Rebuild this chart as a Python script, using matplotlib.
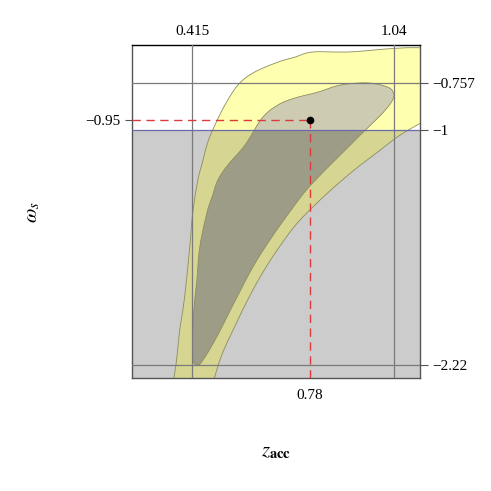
import numpy as np
import matplotlib
matplotlib.use('Agg')
import matplotlib.pyplot as plt
from matplotlib.patches import Rectangle

plt.rcParams['font.family'] = ['Liberation Serif', 'DejaVu Serif']
plt.rcParams['mathtext.fontset'] = 'stix'

# contour outlines (z_acc, w_s)
outer_z = [0.358, 0.367, 0.377, 0.392, 0.408, 0.417, 0.433, 0.445, 0.464, 0.486,
           0.517, 0.557, 0.605, 0.681, 0.734, 0.787, 0.890, 1.185, 1.185, 1.123,
           1.055, 0.990, 0.921, 0.859, 0.795, 0.736, 0.683, 0.633, 0.587, 0.545,
           0.507, 0.483, 0.476, 0.352]
outer_w = [-2.295, -2.192, -2.036, -1.865, -1.606, -1.430, -1.259, -1.181, -1.062, -0.974,
           -0.870, -0.767, -0.703, -0.648, -0.622, -0.596, -0.596, -0.596, -0.907, -0.964,
           -1.031, -1.114, -1.202, -1.290, -1.389, -1.492, -1.611, -1.741, -1.881, -2.026,
           -2.166, -2.295, -2.373, -2.373]

inner_z = [0.433, 0.417, 0.420, 0.430, 0.439, 0.461, 0.479, 0.495, 0.526, 0.579,
           0.632, 0.681, 0.734, 0.806, 0.874, 0.958, 1.020, 1.039, 1.036, 1.008,
           0.968, 0.936, 0.896, 0.852, 0.806, 0.764, 0.715, 0.660, 0.605, 0.550,
           0.492, 0.455]
inner_w = [-2.218, -2.176, -1.948, -1.777, -1.606, -1.430, -1.337, -1.259, -1.181, -1.078,
           -0.938, -0.870, -0.834, -0.803, -0.767, -0.756, -0.777, -0.808, -0.845, -0.907,
           -0.974, -1.026, -1.093, -1.166, -1.244, -1.321, -1.430, -1.560, -1.705, -1.880,
           -2.070, -2.176]

best_z = 0.78
best_w = -0.95
phantom_w = -1.0
grid_z = [0.415, 1.04]
grid_w = [-0.757, -2.22]

zmin, zmax = 0.229, 1.121
wmin, wmax = -2.285, -0.56


def lab(v):
    return ('%g' % v).replace('-', '\u2212')


def smooth(xs, ys, n=10):
    # closed catmull-rom through the traced points
    p = np.column_stack([xs, ys])
    N = len(p)
    out = []
    for i in range(N):
        p0, p1, p2, p3 = p[i - 1], p[i], p[(i + 1) % N], p[(i + 2) % N]
        for t in np.linspace(0, 1, n, endpoint=False):
            out.append(0.5 * (2 * p1 + (-p0 + p2) * t
                              + (2 * p0 - 5 * p1 + 4 * p2 - p3) * t ** 2
                              + (-p0 + 3 * p1 - 3 * p2 + p3) * t ** 3))
    out = np.array(out)
    return out[:, 0], out[:, 1]


fig = plt.figure(figsize=(4.91, 4.91), dpi=100)
ax = fig.add_axes([0.2688, 0.2301, 0.5866, 0.678])
ax.set_xlim(zmin, zmax)
ax.set_ylim(wmin, wmax)

# phantom region below w = -1
ax.add_patch(Rectangle((zmin, wmin), zmax - zmin, phantom_w - wmin,
                       facecolor='#cccccc', edgecolor='none', zorder=0))

upper = Rectangle((zmin, phantom_w), zmax - zmin, wmax - phantom_w, transform=ax.transData)
lower = Rectangle((zmin, wmin), zmax - zmin, phantom_w - wmin, transform=ax.transData)

for zs, ws, c_up, c_lo in [(outer_z, outer_w, '#ffffb0', '#d6d592'),
                           (inner_z, inner_w, '#cdcbb2', '#9d9d87')]:
    sz, sw = smooth(zs, ws)
    for c, clip in [(c_up, upper), (c_lo, lower)]:
        p = ax.fill(sz, sw, facecolor=c, edgecolor='none', zorder=1)[0]
        p.set_clip_path(clip)
    ax.fill(sz, sw, facecolor='none', edgecolor='#8c8c60', lw=0.6, zorder=2)

for z in grid_z:
    ax.axvline(z, color='#7a7a7a', lw=0.9, zorder=3)
for w in grid_w:
    ax.axhline(w, color='#7a7a7a', lw=0.9, zorder=3)

ax.axhline(phantom_w, color='#6a6aa8', lw=0.9, zorder=3)

ax.plot([zmin, best_z], [best_w, best_w], color='#dd3b3b', lw=1.0, ls=(0, (6, 4)), zorder=4)
ax.plot([best_z, best_z], [wmin, best_w], color='#dd3b3b', lw=1.0, ls=(0, (6, 4)), zorder=4)
ax.plot(best_z, best_w, 'o', color='black', ms=4.5, zorder=5)

for s in ax.spines.values():
    s.set_color('#555555')
    s.set_linewidth(1.0)
ax.spines['top'].set_color('black')

ax.set_xticks([best_z])
ax.set_xticklabels([lab(best_z)])
ax.set_yticks([best_w])
ax.set_yticklabels([lab(best_w)])
ax.tick_params(axis='x', length=0, pad=8, labelsize=11)
ax.tick_params(axis='y', length=5, direction='out', pad=3, labelsize=11, color='#555555')

top = ax.secondary_xaxis('top')
top.set_xticks(grid_z)
top.set_xticklabels([lab(v) for v in grid_z])
top.tick_params(length=0, pad=5, labelsize=11)
top.spines['top'].set_visible(False)

right_ticks = [grid_w[0], phantom_w, grid_w[1]]
right = ax.secondary_yaxis('right')
right.set_yticks(right_ticks)
right.set_yticklabels([lab(v) for v in right_ticks])
right.tick_params(length=6, direction='out', pad=3, labelsize=11, color='#555555')
right.spines['right'].set_visible(False)

fig.text(276 / 491, 1 - 452 / 491, r'$z_{\mathbf{acc}}$', ha='center', va='center', fontsize=15)
fig.text(33 / 491, 1 - 212 / 491, r'$\omega_s$', ha='center', va='center', fontsize=15, rotation=90)

fig.savefig('out.png', dpi=100)
